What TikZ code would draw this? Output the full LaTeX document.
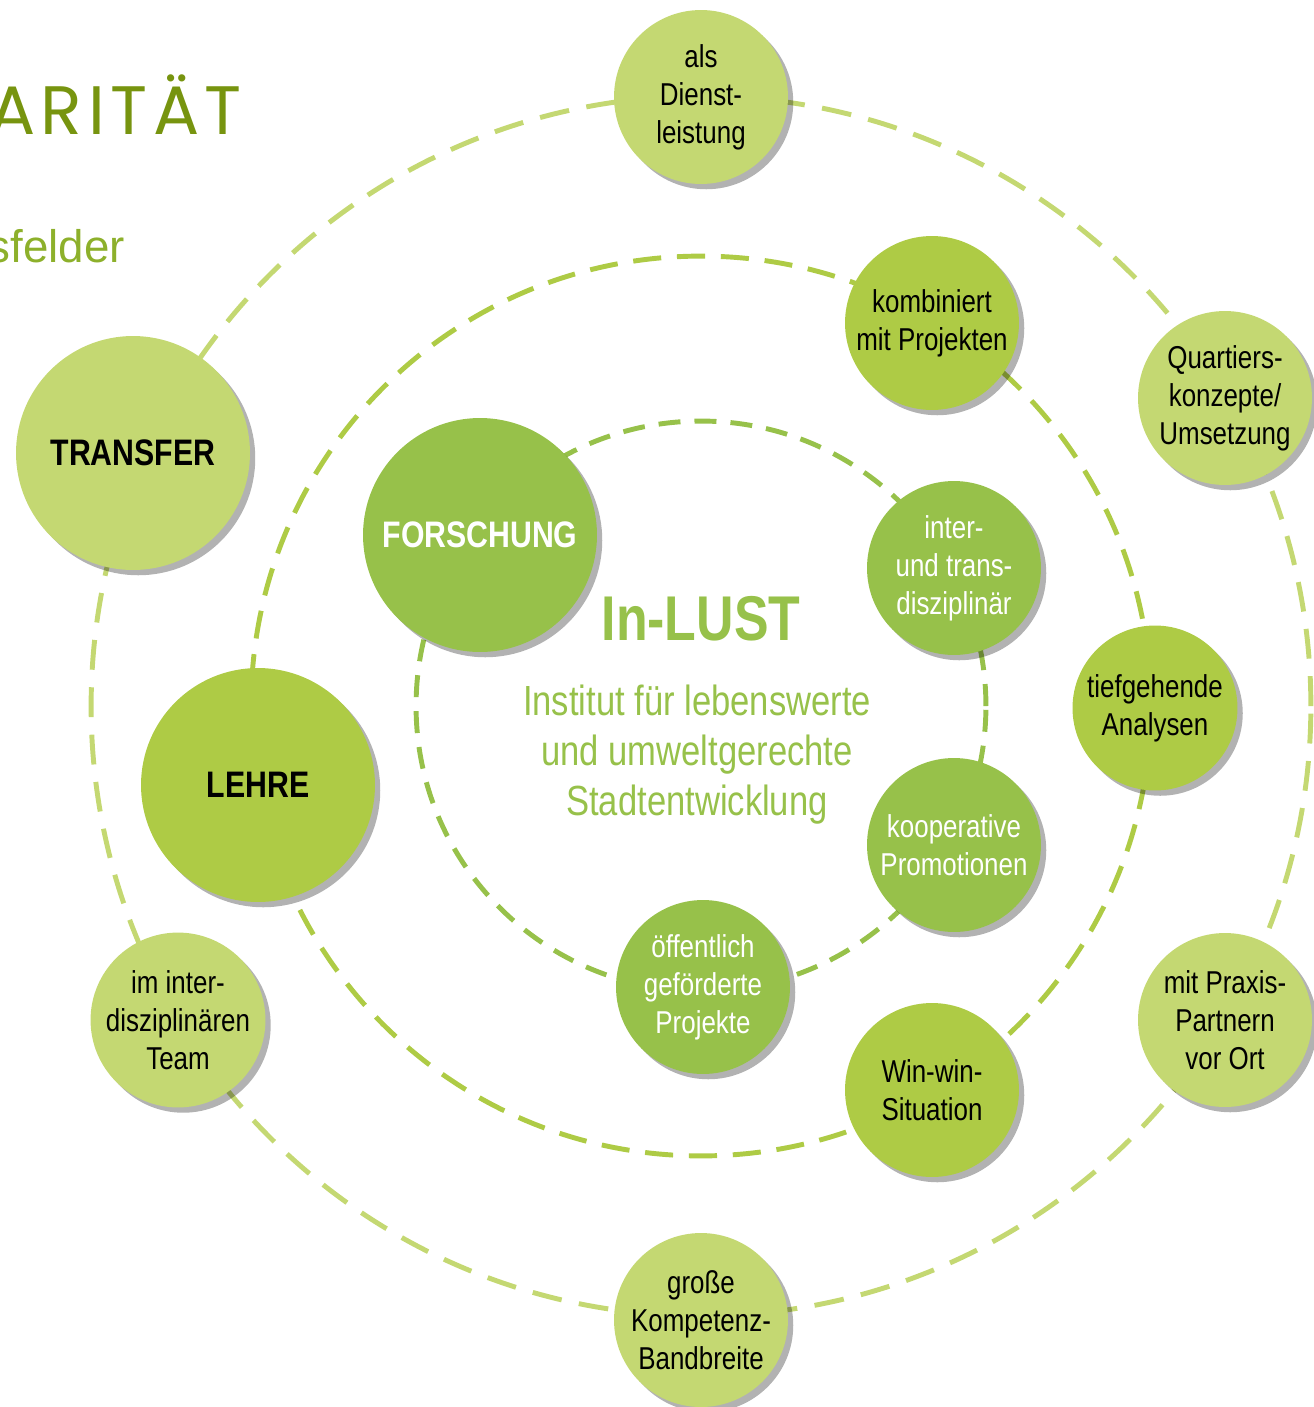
\documentclass[tikz,border=0pt]{standalone}
\usepackage{fontspec}
\setmainfont{Liberation Sans}[FakeStretch=0.82]
\newfontfamily\titlefont{Poppins}[LetterSpace=8]
\newfontfamily\plainfont{Liberation Sans}
\usetikzlibrary{positioning,shadows}

\definecolor{pale}{HTML}{C4D872}
\definecolor{leaf}{HTML}{AECB45}
\definecolor{moss}{HTML}{97C14A}
\definecolor{olive}{HTML}{77940F}
\definecolor{grass}{HTML}{8DB02B}

\tikzset{
  bubble/.style={circle, minimum size=3.48cm, inner sep=0pt, align=center,
    font=\fontsize{18}{21.6}\selectfont,
    drop shadow={shadow xshift=3pt, shadow yshift=-3pt, fill=black, opacity=0.3}},
  hub/.style={bubble, minimum size=4.68cm, font=\fontsize{21}{25}\selectfont\bfseries},
  ring/.style={line width=2.8pt}
}

\begin{document}
\begin{tikzpicture}[x=0.02cm, y=-0.02cm]
  \useasboundingbox (0,0) rectangle (1313,1407);
  \coordinate (mid) at (701,706);

  % dashed rings
  \draw[ring, pale, dash pattern=on 17pt off 10pt] (mid) circle[radius=12.2cm];
  \draw[ring, leaf, dash pattern=on 16pt off 9pt] (mid) circle[radius=9cm];
  \draw[ring, moss, dash pattern=on 12.5pt off 8pt] (mid) circle[radius=5.7cm];

  % title remains
  \node[anchor=base east, text=olive, font=\titlefont\fontsize{39}{41}\selectfont] (head) at (248,134) {ARITÄT};
  \node[anchor=base east, text=grass, font=\plainfont\fontsize{26}{29}\selectfont] (sub) at (131,262) {sfelder};

  % outer ring
  \node[bubble, fill=pale] (dienst) at (701,97) {als\\Dienst-\\leistung};
  \node[hub, fill=pale] (transfer) at (133,453) {TRANSFER};
  \node[bubble, fill=pale] (quartier) at (1225,398) {Quartiers-\\konzepte/\\Umsetzung};
  \node[bubble, fill=pale] (praxis) at (1225,1020) {mit Praxis-\\Partnern\\vor Ort};
  \node[bubble, fill=pale] (team) at (178,1020) {im inter-\\disziplinären\\Team};
  \node[bubble, fill=pale] (band) at (701,1320) {große\\Kompetenz-\\Bandbreite};

  % middle ring
  \node[hub, fill=leaf] (lehre) at (258,785) {LEHRE};
  \node[bubble, fill=leaf] (kombi) at (932,323) {kombiniert\\mit Projekten};
  \node[bubble, fill=leaf, minimum size=3.3cm] (analyse) at (1155,708) {tiefgehende\\Analysen};
  \node[bubble, fill=leaf] (winwin) at (932,1090) {Win-win-\\Situation};

  % inner ring
  \node[hub, fill=moss, text=white] (forschung) at (480,535) {FORSCHUNG};
  \node[bubble, fill=moss, text=white] (inter) at (954,568) {inter-\\und trans-\\disziplinär};
  \node[bubble, fill=moss, text=white] (koop) at (954,845) {kooperative\\Promotionen};
  \node[bubble, fill=moss, text=white] (foerder) at (703,987) {öffentlich\\geförderte\\Projekte};

  % centre
  \node[text=moss, font=\fontsize{36}{40}\selectfont\bfseries] (name) at (701,619) {In-LUST};
  \node[text=moss, align=center, font=\fontsize{24}{28.5}\selectfont] (inst) at (697,755)
    {Institut für lebenswerte\\und umweltgerechte\\Stadtentwicklung};
\end{tikzpicture}
\end{document}
